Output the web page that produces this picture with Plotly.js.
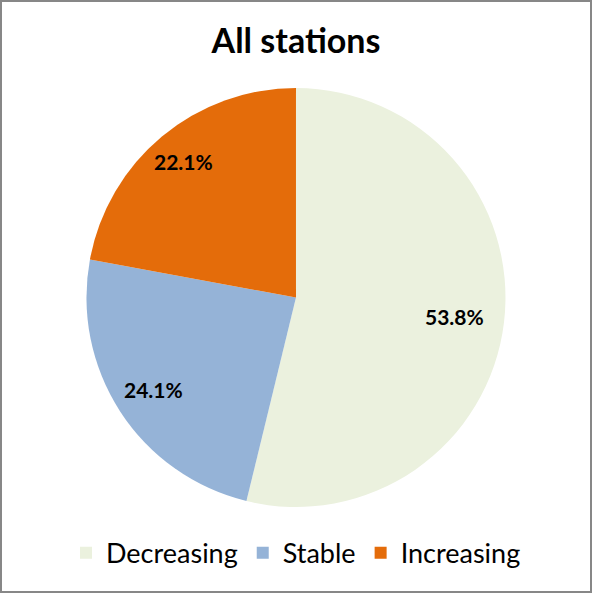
<!DOCTYPE html>
<html><head><meta charset="utf-8">
<script src="https://cdn.plot.ly/plotly-3.0.1.min.js"></script>
<style>
html,body{margin:0;padding:0;background:#fff;}
#wrap{width:592px;height:593px;box-sizing:border-box;border:2px solid #878787;}
#chart{width:588px;height:589px;}
</style></head><body>
<div id="wrap"><div id="chart"></div></div>
<script>
const categories = ["Decreasing", "Stable", "Increasing"];
const values = [53.8, 24.1, 22.1];
const colors = ["#EBF1DE", "#95B3D7", "#E46C0A"];
const labelRadius = [0.76, 0.81, 0.84];

const FONT = "Lato, 'Open Sans', 'DejaVu Sans', sans-serif";
const W = 588, H = 589;
const dom = {x: [0.1429, 0.857], y: [0.1426, 0.854]};

// label positions derived from the data (slice mid-angles)
const total = values.reduce((a, b) => a + b, 0);
const cx = (dom.x[0] + dom.x[1]) / 2, cy = (dom.y[0] + dom.y[1]) / 2;
const R = (dom.x[1] - dom.x[0]) * W / 2;
let cum = 0;
const annotations = values.map((v, i) => {
  const mid = (cum + v / 2) / total * 2 * Math.PI;
  cum += v;
  const r = R * labelRadius[i];
  return {
    xref: 'paper', yref: 'paper',
    x: cx + Math.sin(mid) * r / W,
    y: cy + Math.cos(mid) * r / H,
    text: '<b>' + (v / total * 100).toFixed(1) + '%</b>',
    showarrow: false,
    font: {family: FONT, size: 21, color: '#000'},
    xanchor: 'center', yanchor: 'middle'
  };
});

Plotly.newPlot('chart', [{
  type: 'pie',
  labels: categories,
  values: values,
  sort: false,
  direction: 'clockwise',
  rotation: 0,
  marker: {colors: colors, line: {width: 0}},
  textinfo: 'none',
  hoverinfo: 'label+percent',
  domain: dom
}], {
  width: W, height: H,
  margin: {l: 0, r: 0, t: 0, b: 0},
  paper_bgcolor: '#fff',
  title: {text: '<b>All stations</b>', font: {family: FONT, size: 34, color: '#000'}, x: 0.5, xanchor: 'center', y: 0.934, yanchor: 'middle'},
  showlegend: true,
  legend: {orientation: 'h', x: 0.5, xanchor: 'center', y: 0.064, yanchor: 'middle', font: {family: FONT, size: 27, color: '#000'}, itemwidth: 30},
  annotations: annotations,
  font: {family: FONT}
}, {displayModeBar: false});
</script></body></html>
